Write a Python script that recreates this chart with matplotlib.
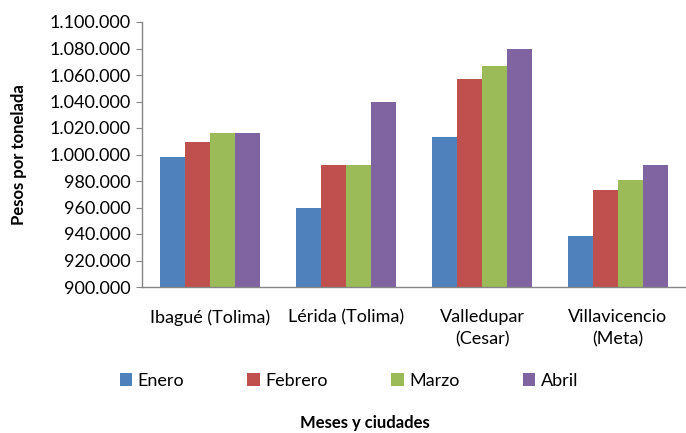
import matplotlib
matplotlib.use("Agg")
import matplotlib.pyplot as plt
import numpy as np
from matplotlib.ticker import FuncFormatter
from matplotlib.patches import Patch

categories = ["Ibagué (Tolima)", "Lérida (Tolima)", "Valledupar\n(Cesar)", "Villavicencio\n(Meta)"]
series_names = ["Enero", "Febrero", "Marzo", "Abril"]
enero = [998300, 960000, 1013000, 938500]
febrero = [1009500, 992000, 1057000, 973000]
marzo = [1016000, 992000, 1067000, 981000]
abril = [1016000, 1040000, 1080000, 992000]
colors = ["#4F81BD", "#C0504D", "#9BBB59", "#8064A2"]

plt.rcParams['font.family'] = ['Lato', 'DejaVu Sans']

fig = plt.figure(figsize=(6.86, 4.33), dpi=100)
ax = fig.add_axes([142/686, 1 - 287/433, (686 - 142)/686, (287 - 22)/433])

x = np.arange(len(categories))
bw = 25 / 136
data = [enero, febrero, marzo, abril]
for i, (vals, c) in enumerate(zip(data, colors)):
    ax.bar(x + (i - 1.5) * bw, vals, width=bw, color=c, edgecolor='none', zorder=2)

ax.set_xlim(-0.5, len(categories) - 0.5)
ax.set_ylim(900000, 1100000)
ax.set_yticks(np.arange(900000, 1100001, 20000))
ax.yaxis.set_major_formatter(FuncFormatter(lambda v, p: f"{int(round(v)):,}".replace(",", ".")))
ax.set_xticks(x)
ax.set_xticklabels(categories, fontsize=13, linespacing=1.45, ha='center', multialignment='center')
ax.tick_params(axis='x', length=0, pad=16)
ax.tick_params(axis='y', labelsize=13, length=4, color='#868686', pad=4)
for s in ['top', 'right']:
    ax.spines[s].set_visible(False)
for s in ['left', 'bottom']:
    ax.spines[s].set_color('#868686')
    ax.spines[s].set_linewidth(1.0)

ax.set_ylabel("Pesos por tonelada", fontsize=12, fontweight='bold')
ax.yaxis.set_label_coords(-0.212, 0.5)

handles = [Patch(facecolor=c, edgecolor='none') for c in colors]
fig.legend(handles, series_names, loc='center', bbox_to_anchor=(349/686, 1 - 381/433),
           ncol=4, frameon=False, fontsize=13, handlelength=0.7, handleheight=0.7,
           handletextpad=0.3, columnspacing=3.5)

fig.text(365/686, 1 - 423/433, "Meses y ciudades", ha='center', va='center',
         fontsize=12, fontweight='bold')

fig.savefig("out.png", dpi=100)
